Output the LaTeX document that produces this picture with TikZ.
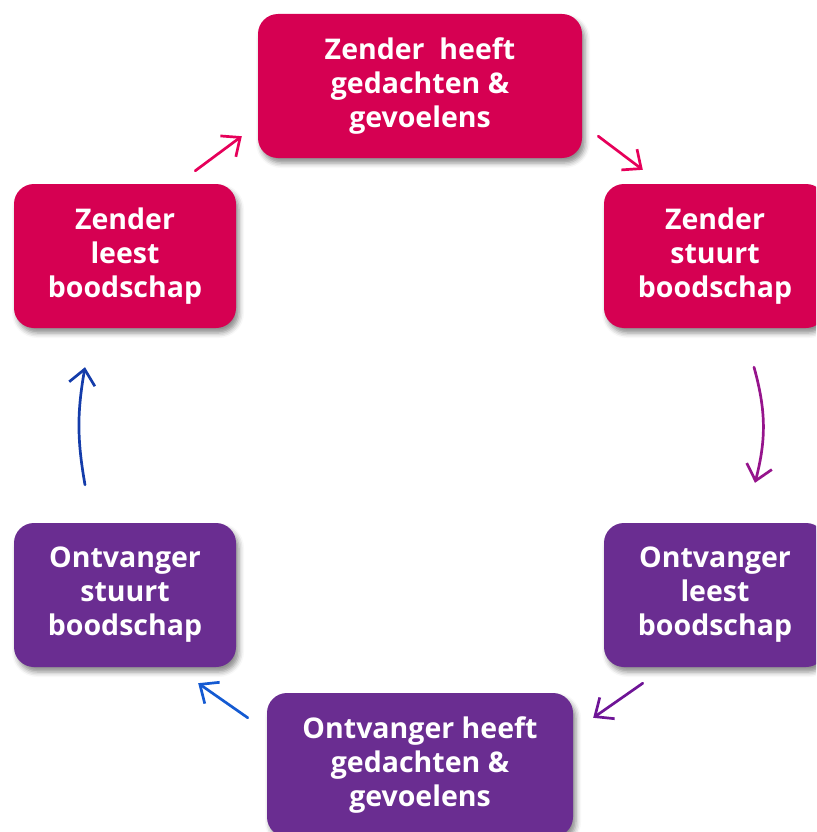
\documentclass[tikz,border=0pt]{standalone}
\usepackage{fontspec}
\setmainfont{Open Sans}
\usetikzlibrary{arrows.meta,shadows.blur}
\definecolor{zender}{RGB}{214,0,82}
\definecolor{ontvanger}{RGB}{106,45,145}
\definecolor{roze}{RGB}{230,0,90}
\definecolor{paarsroze}{RGB}{150,20,140}
\definecolor{paars}{RGB}{110,20,150}
\definecolor{blauw}{RGB}{20,90,210}
\definecolor{donkerblauw}{RGB}{20,60,170}

\begin{document}
\begin{tikzpicture}[x=1pt,y=1pt,
	stap/.style={rounded corners=20pt, minimum width=222pt, minimum height=144pt,
		inner sep=0pt, text=white, align=center,
		font=\fontsize{28.5}{34}\selectfont\bfseries,
		blur shadow={shadow xshift=3pt, shadow yshift=-5pt, shadow blur radius=5pt, shadow opacity=45}},
	pijl/.style={line width=2.7pt, line cap=round, -{Straight Barb[length=15pt,width=26pt]}}]
			\clip (0,0) rectangle (816,-832);
			% stappen
			\node [stap, fill=zender, minimum width=324pt] (zheeft) at (420,-86) {Zender\ \ heeft\\gedachten \&\\gevoelens};
			\node [stap, fill=zender] (zstuurt) at (715,-256) {Zender\\stuurt\\boodschap};
			\node [stap, fill=ontvanger] (oleest) at (715,-595) {Ontvanger\\leest\\boodschap};
			\node [stap, fill=ontvanger, minimum width=306pt] (oheeft) at (420,-765) {Ontvanger heeft\\gedachten \&\\gevoelens};
			\node [stap, fill=ontvanger] (ostuurt) at (125,-595) {Ontvanger\\stuurt\\boodschap};
			\node [stap, fill=zender] (zleest) at (125,-256) {Zender\\leest\\boodschap};
			% pijlen
			\draw [pijl, roze] ([shift={(-41,13)}]zleest.north east) -- ([shift={(-16,22)}]zheeft.south west);
			\draw [pijl, roze] ([shift={(16,22)}]zheeft.south east) -- ([shift={(39,14)}]zstuurt.north west);
			\draw [pijl, paarsroze] ([shift={(39,-39)}]zstuurt.south) to [bend left=15] ([shift={(40,40)}]oleest.north);
			\draw [pijl, paars] ([shift={(39,-16)}]oleest.south west) -- ([shift={(20,-25)}]oheeft.north east);
			\draw [pijl, blauw] ([shift={(-19,-25)}]oheeft.north west) -- ([shift={(-38,-16)}]ostuurt.south east);
			\draw [pijl, donkerblauw] ([shift={(-40,38)}]ostuurt.north) to [bend left=10] ([shift={(-40,-39)}]zleest.south);
\end{tikzpicture}
\end{document}
